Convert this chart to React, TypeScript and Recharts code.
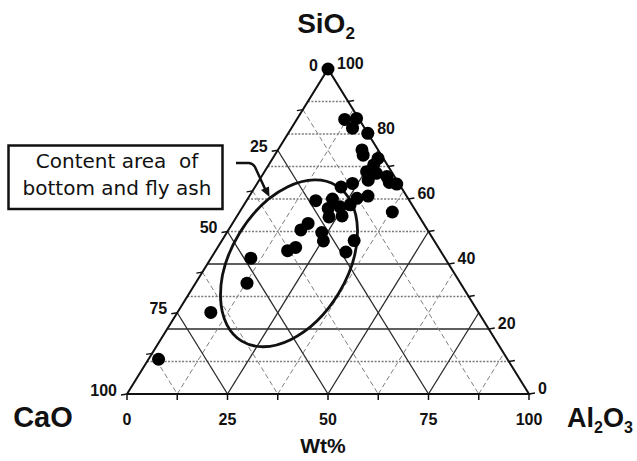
import React from 'react';
import { ScatterChart, Scatter, XAxis, YAxis } from 'recharts';

// ---- Sample compositions (wt%) ----
const SIO2 = [100, 84.5, 84.8, 81.8, 80.2, 75.1, 73.5, 72.5, 70.5, 68.4, 67.9, 66.9, 64.6, 65.1, 65.8, 64.8, 63.7, 60.9, 60.2, 59.5, 60.0, 57.1, 57.6, 58.2, 56.0, 54.8, 54.5, 52.5, 50.5, 49.7, 47.1, 47.2, 45.1, 44.1, 43.7, 41.8, 34.1, 25.1, 10.7];
const AL2O3 = [0, 11.9, 14.7, 15.2, 19.8, 20.9, 22.0, 26.2, 26.1, 25.4, 28.1, 31.2, 34.8, 32.7, 27.1, 23.7, 21.4, 29.5, 27.1, 17.2, 21.1, 21.5, 24.2, 26.4, 38.0, 26.1, 23.0, 18.8, 18.0, 23.6, 25.3, 32.9, 19.4, 17.9, 32.6, 9.9, 12.8, 8.3, 2.5];
const CAO = [0, 3.6, 0.5, 3.0, 0, 4.0, 4.5, 1.3, 3.4, 6.2, 4.0, 1.9, 0.6, 2.2, 7.1, 11.5, 14.9, 9.6, 12.7, 23.3, 18.9, 21.4, 18.2, 15.4, 6.0, 19.1, 22.5, 28.7, 31.5, 26.7, 27.6, 19.9, 35.5, 38.0, 23.7, 48.3, 53.1, 66.6, 86.8];

// ---- Grid / ticks ----
const SIO2_GRID = [10, 20, 30, 40, 50, 60, 70, 80, 90];
const SIO2_MAJOR = [20, 40];
const DIAG_GRID = [12.5, 25, 37.5, 50, 62.5, 75, 87.5];
const DIAG_MAJOR = [25, 50, 75];
const BOTTOM_TICKS = [0, 12.5, 25, 37.5, 50, 62.5, 75, 87.5, 100];
const LEFT_TICKS = [12.5, 25, 37.5, 50, 62.5, 75, 87.5, 100];
const RIGHT_TICKS = [0, 10, 20, 30, 40, 50, 60, 70, 80, 90];
const LEFT_LABELS = [0, 25, 50, 75, 100]; // CaO
const RIGHT_LABELS = [0, 20, 40, 60, 80, 100]; // SiO2
const BOTTOM_LABELS = [0, 25, 50, 75, 100]; // Al2O3

// ---- Content-area ellipse (centre composition) ----
const ELLIPSE_SIO2 = 40.2;
const ELLIPSE_AL2O3 = 20.2;

const FONT = '"Liberation Sans", Arial, sans-serif';

// ternary -> cartesian (x in 0..100 across base, y = SiO2)
const project = (sio2: number, al2o3: number) => ({ x: al2o3 + sio2 / 2, y: sio2 });

const points = SIO2.map((s, i) => ({ ...project(s, AL2O3[i]), cao: CAO[i] }));

type Seg = { pts: { x: number; y: number }[]; style: any; key: string };
const MAJOR_STYLE = { stroke: '#2a2a2a', strokeWidth: 1.3 };
const DASH_STYLE = { stroke: '#808080', strokeWidth: 1, strokeDasharray: '5 3' };
const DOT_STYLE = { stroke: '#7a7a7a', strokeWidth: 1.3, strokeDasharray: '2 1.5' };
const EDGE_STYLE = { stroke: '#111', strokeWidth: 2 };

const segments: Seg[] = [];
SIO2_GRID.forEach((s) => {
  segments.push({
    key: 'h' + s,
    pts: [project(s, 0), project(s, 100 - s)],
    style: SIO2_MAJOR.includes(s) ? MAJOR_STYLE : DOT_STYLE,
  });
});
DIAG_GRID.forEach((v) => {
  const st = DIAG_MAJOR.includes(v) ? MAJOR_STYLE : DASH_STYLE;
  segments.push({ key: 'c' + v, pts: [project(100 - v, 0), project(0, 100 - v)], style: st });
  segments.push({ key: 'a' + v, pts: [project(0, v), project(100 - v, v)], style: st });
});
segments.push({
  key: 'edge',
  pts: [project(0, 0), project(0, 100), project(100, 0), project(0, 0)],
  style: EDGE_STYLE,
});

const tickData = [
  ...BOTTOM_TICKS.map((a) => ({ ...project(0, a), dir: 'down' })),
  ...LEFT_TICKS.map((c) => ({ ...project(100 - c, 0), dir: 'left' })),
  ...RIGHT_TICKS.map((s) => ({ ...project(s, 100 - s), dir: 'right' })),
];

const labelData = [
  ...LEFT_LABELS.map((c) => ({ ...project(100 - c, 0), side: 'left', text: String(c) })),
  ...RIGHT_LABELS.map((s) => ({ ...project(s, 100 - s), side: 'right', text: String(s) })),
  ...BOTTOM_LABELS.map((a) => ({ ...project(0, a), side: 'bottom', text: String(a) })),
];

const titleData = [
  { ...project(100, 0), name: 'SiO2' },
  { ...project(0, 0), name: 'CaO' },
  { ...project(0, 100), name: 'Al2O3' },
  { ...project(0, 50), name: 'Wt%' },
];

const ellipseData = [project(ELLIPSE_SIO2, ELLIPSE_AL2O3)];

const Empty = () => <g />;

const TickShape = (p: any) => {
  const { cx, cy, payload } = p;
  if (payload.dir === 'down') return <line x1={cx} y1={cy} x2={cx} y2={cy + 6} stroke="#111" strokeWidth={1.5} />;
  if (payload.dir === 'left') return <line x1={cx} y1={cy} x2={cx - 6} y2={cy + 1} stroke="#111" strokeWidth={1.5} />;
  return <line x1={cx} y1={cy} x2={cx + 6} y2={cy - 1} stroke="#111" strokeWidth={1.5} />;
};

const LabelShape = (p: any) => {
  const { cx, cy, payload } = p;
  const common = { fontFamily: FONT, fontSize: 16, fontWeight: 700, fill: '#111' } as any;
  if (payload.side === 'left')
    return <text x={cx - 10} y={cy + 1.5} textAnchor="end" {...common}>{payload.text}</text>;
  if (payload.side === 'right')
    return <text x={cx + 9} y={cy} textAnchor="start" {...common}>{payload.text}</text>;
  return <text x={cx} y={cy + 31} textAnchor="middle" {...common}>{payload.text}</text>;
};

const TitleShape = (p: any) => {
  const { cx, cy, payload } = p;
  const common = { fontFamily: FONT, fontWeight: 700, fill: '#111' } as any;
  if (payload.name === 'SiO2')
    return (
      <text x={cx - 2} y={cy - 36} textAnchor="middle" fontSize={28} {...common}>
        SiO<tspan fontSize={17} dy={6}>2</tspan>
      </text>
    );
  if (payload.name === 'CaO')
    return <text x={cx - 84} y={cy + 33} textAnchor="middle" fontSize={29} {...common}>CaO</text>;
  if (payload.name === 'Al2O3')
    return (
      <text x={cx + 38} y={cy + 33} textAnchor="start" fontSize={27} {...common}>
        Al<tspan fontSize={16} dy={6}>2</tspan><tspan dy={-6}>O</tspan><tspan fontSize={16} dy={6}>3</tspan>
      </text>
    );
  return <text x={cx - 5} y={cy + 59} textAnchor="middle" fontSize={21} {...common}>Wt%</text>;
};

const EllipseShape = (p: any) => {
  const { cx, cy } = p;
  return (
    <ellipse cx={cx} cy={cy} rx={91} ry={58} transform={`rotate(-58.7 ${cx} ${cy})`} fill="none" stroke="#111" strokeWidth={2.8} />
  );
};

const DotShape = (p: any) => <circle cx={p.cx} cy={p.cy} r={6.5} fill="#000" />;

export default function App() {
  return (
    <div style={{ position: 'absolute', left: 0, top: 0, width: 637, height: 461, background: '#fff' }}>
      <ScatterChart width={637} height={461} margin={{ top: 69, right: 108, bottom: 67, left: 127 }}>
        <XAxis type="number" dataKey="x" domain={[0, 100]} hide />
        <YAxis type="number" dataKey="y" domain={[0, 100]} hide />
        {segments.map((s) => (
          <Scatter key={s.key} data={s.pts} line={s.style} lineType="joint" shape={Empty} isAnimationActive={false} />
        ))}
        <Scatter data={tickData} shape={TickShape} isAnimationActive={false} />
        <Scatter data={labelData} shape={LabelShape} isAnimationActive={false} />
        <Scatter data={titleData} shape={TitleShape} isAnimationActive={false} />
        <Scatter data={ellipseData} shape={EllipseShape} isAnimationActive={false} />
        <Scatter data={points} shape={DotShape} isAnimationActive={false} />
      </ScatterChart>
      <svg width={637} height={461} style={{ position: 'absolute', left: 0, top: 0, pointerEvents: 'none' }}>
        <rect x={8.5} y={145.5} width={214} height={63.5} fill="#fff" stroke="#111" strokeWidth={2.5} />
        <text x={117} y={168} textAnchor="middle" fontFamily='"DejaVu Sans", sans-serif' fontSize={20} fill="#111" style={{ whiteSpace: 'pre' }}>
          {'Content area  of'}
        </text>
        <text x={117} y={195} textAnchor="middle" fontFamily='"DejaVu Sans", sans-serif' fontSize={20} fill="#111">
          bottom and fly ash
        </text>
        <path d="M 236 163 L 249 163 Q 253 163.5 255 167 L 266 191" fill="none" stroke="#111" strokeWidth={2.5} />
        <path d="M 269.5 197 L 261 190 L 269 186.5 Z" fill="#111" />
      </svg>
    </div>
  );
}
